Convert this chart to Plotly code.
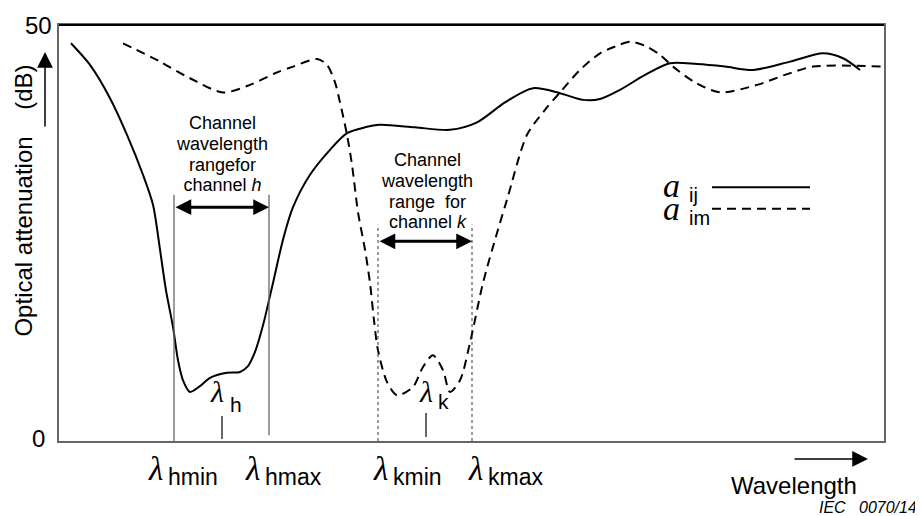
import plotly.graph_objects as go

# wavelength axis is arbitrary (schematic); attenuation in dB
solid_x = [71, 90, 110, 127, 143, 153, 160, 166, 173, 178, 183, 190, 200, 210, 227, 240, 248, 255, 263, 273,
           283, 293, 310, 330, 347, 365, 380, 415, 450, 477, 505, 533, 560, 583, 600, 620, 645, 670, 697,
           725, 753, 790, 823, 843, 860]
solid_y = [47.8, 45.2, 41.2, 36.8, 32.0, 28.4, 23.0, 18.1, 13.7, 9.7, 7.3, 5.9, 6.6, 7.6, 8.2, 8.3, 9.0, 10.7,
           13.9, 19.0, 24.2, 28.1, 32.0, 35.0, 37.0, 37.7, 38.0, 37.7, 37.4, 38.3, 40.7, 42.4, 41.8, 41.0,
           41.1, 42.2, 44.0, 45.4, 45.3, 45.0, 44.6, 45.6, 46.6, 46.0, 44.6]

dashed_x = [123, 160, 190, 223, 250, 275, 293, 317, 327, 335, 340, 347, 352, 358, 365, 370, 374, 378, 387, 397,
            413, 423, 433, 443, 450, 460, 470, 483, 497, 507, 527, 545, 560, 580, 600, 615, 630, 647, 660,
            673, 695, 720, 757, 785, 813, 857, 884]
dashed_y = [47.8, 45.6, 43.6, 41.9, 42.8, 44.2, 45.0, 45.9, 45.2, 43.1, 40.7, 36.8, 33.2, 27.5, 23.0, 19.0,
            14.5, 10.9, 7.1, 5.5, 6.5, 8.9, 10.3, 8.5, 5.9, 7.3, 11.8, 19.0, 25.0, 29.0, 36.8, 39.8, 41.9,
            44.6, 46.6, 47.4, 48.0, 47.4, 46.4, 45.0, 43.1, 41.9, 42.8, 44.0, 45.0, 45.1, 45.0]

# channel band edges and centres (schematic wavelength positions)
band_h = [174, 269]
band_k = [378, 472]
centre_h = 222
centre_k = 426

y_labels = ["0", "50"]

X0, X1 = 59, 884      # x axis range
Y0, Y1 = 0, 50        # y axis range
PAGE_OFF = 8          # body margin of the html page

FONT = "Arial, Liberation Sans, sans-serif"
SERIF = "Liberation Serif, Times New Roman, serif"

fig = go.Figure()
fig.add_trace(go.Scatter(x=solid_x, y=solid_y, mode="lines",
                         line=dict(color="black", width=2, shape="spline", smoothing=0.8),
                         showlegend=False, hoverinfo="skip"))
fig.add_trace(go.Scatter(x=dashed_x, y=dashed_y, mode="lines",
                         line=dict(color="black", width=2, dash="9px,6px", shape="spline", smoothing=0.8),
                         showlegend=False, hoverinfo="skip"))

shapes = []
shapes.append(dict(type="line", xref="paper", yref="paper", x0=0, x1=1, y0=1, y1=1,
                   line=dict(color="black", width=2)))
shapes.append(dict(type="line", x0=band_h[0], x1=band_h[0], y0=0, y1=29.6, line=dict(color="#666", width=1.3)))
shapes.append(dict(type="line", x0=band_h[1], x1=band_h[1], y0=0.7, y1=29.6, line=dict(color="#666", width=1.3)))
for xb in band_k:
    shapes.append(dict(type="line", x0=xb, x1=xb, y0=0, y1=26.0, line=dict(color="#333", width=1, dash="dot")))
shapes.append(dict(type="line", x0=centre_h, x1=centre_h, y0=0.24, y1=3.0, line=dict(color="black", width=1.2)))
shapes.append(dict(type="line", x0=centre_k, x1=centre_k, y0=0.48, y1=3.37, line=dict(color="black", width=1.2)))
shapes.append(dict(type="line", x0=712, x1=810, y0=30.5, y1=30.5, line=dict(color="black", width=2)))
shapes.append(dict(type="line", x0=712, x1=810, y0=27.9, y1=27.9, line=dict(color="black", width=2, dash="9px,6px")))

def px(x):
    return (x - X0) / (X1 - X0)

def py(y):
    return (y - Y0) / (Y1 - Y0)

ann = []
def txt(x, y, t, size, xanchor="center", family=FONT, angle=0):
    ann.append(dict(x=px(x), y=py(y), xref="paper", yref="paper", text=t, showarrow=False,
                    xanchor=xanchor, yanchor="middle", align="center" if xanchor == "center" else xanchor,
                    textangle=angle, font=dict(family=family, size=size, color="black")))

def big(t, s):
    return "<span style='font-size:%dpx'>%s</span>" % (s, t)

txt(38, 50.0, y_labels[1], 24)
txt(38, 0.36, y_labels[0], 24)
txt(24, 28.9, "Optical attenuation    (dB)", 24, angle=-90)

cap_h = ["Channel", "wavelength", "rangefor", "channel <i>h</i>"]
cap_k = ["Channel", "wavelength", "range  for", "channel <i>k</i>"]
txt(222, 34.5, "<br>".join(big(s, 18) for s in cap_h), 16)
txt(427, 30.0, "<br>".join(big(s, 18) for s in cap_k), 16)

LAMBDA = "<i>λ</i>"
txt(217, 6.0, LAMBDA, 30, family=SERIF)
txt(228, 4.33, "h", 21, xanchor="left")
txt(426, 5.9, LAMBDA, 30, family=SERIF)
txt(436, 4.69, "k", 21, xanchor="left")
for lx, sub in [(155, "hmin"), (252, "hmax"), (380, "kmin"), (475, "kmax")]:
    txt(lx, -3.37, LAMBDA, 33, family=SERIF)
    txt(lx + 11, -4.33, sub, 23, xanchor="left")

# legend labels: italic a + subscripts
txt(671, 29.27, big("<i>a</i>", 34) + "<br>" + big("<i>a</i>", 34), 17.7, family=SERIF)
txt(687, 28.24, big("ij", 20) + "<br>" + big("im", 20), 17.7, xanchor="left")

txt(794, -5.29, "Wavelength", 24)
txt(919, -8.05, "<i>IEC   0070/14</i>", 16, xanchor="right")

def arrow_data(x, y, ax, ay, width, size):
    ann.append(dict(x=x, y=y, ax=ax, ay=ay, xref="x", yref="y", axref="x", ayref="y", text="",
                    showarrow=True, arrowhead=2, arrowsize=size, arrowwidth=width, arrowcolor="black",
                    arrowside="end+start", startarrowhead=2, startarrowsize=size))

def arrow_px(x, y, dx, dy, width, size):
    ann.append(dict(x=px(x), y=py(y), xref="paper", yref="paper", ax=dx, ay=dy, text="",
                    showarrow=True, arrowhead=2, arrowsize=size, arrowwidth=width, arrowcolor="black"))

arrow_data(band_h[1], 28.1, band_h[0], 28.1, 3, 1.05)
arrow_data(band_k[1], 24.0, band_k[0], 24.0, 3, 1.05)
arrow_px(45, 46.75, 0, 76, 1.5, 2.1)
arrow_px(868, -2.16, -75, 0, 1.5, 2.1)

W, H = 923 - PAGE_OFF, 516 - PAGE_OFF
L, T = X0 - PAGE_OFF, 25 - PAGE_OFF
fig.update_layout(
    width=W, height=H, autosize=False,
    margin=dict(l=L, r=W - L - 825, t=T, b=H - T - 416),
    paper_bgcolor="white", plot_bgcolor="white",
    shapes=shapes, annotations=ann,
    xaxis=dict(range=[X0, X1], showgrid=False, zeroline=False, showticklabels=False, ticks="",
               showline=True, linecolor="#666", linewidth=1.5, mirror=True, fixedrange=True),
    yaxis=dict(range=[Y0, Y1], showgrid=False, zeroline=False, showticklabels=False, ticks="",
               showline=True, linecolor="#666", linewidth=1.5, mirror=True, fixedrange=True),
)

fig.write_html("out.html")
